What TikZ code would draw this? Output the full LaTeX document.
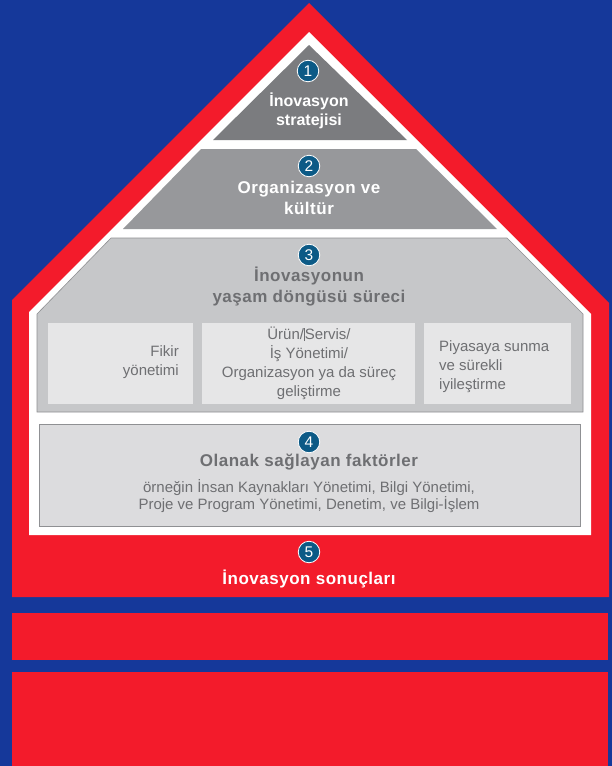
\documentclass[tikz,border=0pt]{standalone}
\usepackage{fontspec}
\setmainfont{Liberation Sans}
\usetikzlibrary{positioning}

\definecolor{bgblue}{HTML}{15389A}
\definecolor{roofred}{HTML}{F31B2B}
\definecolor{greyA}{HTML}{7B7C7F}
\definecolor{greyB}{HTML}{97989B}
\definecolor{greyC}{HTML}{C6C7C9}
\definecolor{greyD}{HTML}{DCDCDE}
\definecolor{boxgrey}{HTML}{E6E6E7}
\definecolor{edgegrey}{HTML}{8F9093}
\definecolor{txtgrey}{HTML}{6E6F72}
\definecolor{dotblue}{HTML}{0C5A86}

\tikzset{
  numdot/.style={circle, fill=dotblue, draw=white, line width=0.8pt,
    minimum size=21.5pt, inner sep=0pt, text=white,
    font=\fontsize{15.5}{15.5}\selectfont},
  headtxt/.style={align=center, inner sep=0pt,
    font=\fontsize{17}{21}\selectfont\bfseries\addfontfeature{LetterSpace=3}},
  bodytxt/.style={text=txtgrey, inner sep=0pt,
    font=\fontsize{15}{19}\selectfont},
  layer/.style={draw=edgegrey, line width=0.6pt}
}

\begin{document}
\begin{tikzpicture}[x=1pt,y=-1pt]
% Background and house
\fill[bgblue] (0,0) rectangle (612,766);
\fill[roofred] (309,3) -- (609,303) -- (609,597) -- (12,597) -- (12,300) -- cycle;
\fill[roofred] (12,613) rectangle (608,660);
\fill[roofred] (12,672) rectangle (608,766);
\fill[white] (309,32) -- (591,314) -- (591,535) -- (29,535) -- (29,312) -- cycle;

% Layers
\fill[greyA] (309,45) -- (407,140) -- (213,140) -- cycle;
\fill[greyB] (201,149) -- (416,149) -- (497,229) -- (123,229) -- cycle;
\draw[layer, fill=greyC] (111,238) -- (507,238) -- (583,314) -- (583,412)
  -- (37,412) -- (37,314) -- cycle;
\fill[boxgrey] (48,323) rectangle (193,404);
\fill[boxgrey] (202,323) rectangle (415,404);
\fill[boxgrey] (424,323) rectangle (571,404);
\draw[layer, fill=greyD] (39,424) rectangle (580,526);

% Numbers
\node[numdot] (n1) at (308,71) {1};
\node[numdot] (n2) at (309,166) {2};
\node[numdot] (n3) at (309,255) {3};
\node[numdot] (n4) at (309,442) {4};
\node[numdot] (n5) at (309,552) {5};

% Labels
\node[headtxt, text=white, font=\fontsize{16}{19}\selectfont\bfseries]
  (strat) at (309,111) {İnovasyon\\stratejisi};
\node[headtxt, text=white] (org) at (309,198) {Organizasyon ve\\kültür};
\node[headtxt, text=txtgrey] (cycle) at (309,287) {İnovasyonun\\yaşam döngüsü süreci};
\node[bodytxt, anchor=east, align=right] (idea) at (179,362) {Fikir\\yönetimi};
\node[bodytxt, align=center] (dev) at (309,363)
  {Ürün/\rule[-2pt]{0.7pt}{13pt}Servis/\\İş Yönetimi/\\Organizasyon ya da süreç\\geliştirme};
\node[bodytxt, anchor=west, align=left] (market) at (439,367)
  {Piyasaya sunma\\ve sürekli\\iyileştirme};
\node[headtxt, text=txtgrey] (enab) at (309,462) {Olanak sağlayan faktörler};
\node[bodytxt, align=center, font=\fontsize{15}{16.5}\selectfont] (enabtxt) at (309,496)
  {örneğin İnsan Kaynakları Yönetimi, Bilgi Yönetimi,\\Proje ve Program Yönetimi, Denetim, ve Bilgi-İşlem};
\node[headtxt, text=white] (result) at (309,579) {İnovasyon sonuçları};
\end{tikzpicture}
\end{document}
